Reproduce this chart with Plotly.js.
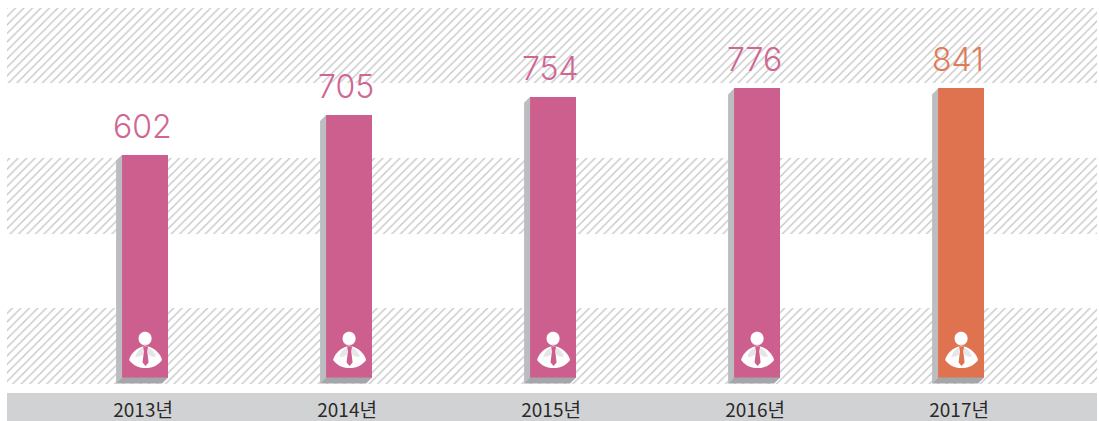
<!DOCTYPE html>
<html><head><meta charset="utf-8">
<script src="https://cdn.plot.ly/plotly-3.0.1.min.js"></script>
<style>html,body{margin:0;padding:0;background:#fff}#c{width:1099px;height:421px}</style></head>
<body><div id="c"></div>
<script>
const years = [2013, 2014, 2015, 2016, 2017];
const tickLabels = ["2013년", "2014년", "2015년", "2016년", "2017년"];
const labelValues = [602, 705, 754, 776, 841];
const drawnHeights = [598, 705, 754, 776, 776];
const barColors = ["#cc5f8e", "#cc5f8e", "#cc5f8e", "#cc5f8e", "#df7350"];
const textColors = ["#cf6792", "#cf6792", "#cf6792", "#cf6792", "#e07a58"];
const bandBases = [-17.4, 384, 791];
const bandHeights = [204, 204, 201];

const unitsPerPx = 1 / 0.3725;
const barLeftPx = -21, barWidthPx = 46, depthPx = 6;
const xUnit = 1 / 204;

const bands = {
  type: "bar", x: bandBases.map(() => 2015), y: bandHeights, base: bandBases,
  width: bandBases.map(() => 5.343), offset: bandBases.map(() => -2.667),
  marker: {color: "rgba(255,255,255,0)", line: {width: 0},
    pattern: {shape: "/", fgcolor: "#c4c5c6", bgcolor: "#ffffff", size: 6, solidity: 0.22}},
  hoverinfo: "skip", showlegend: false
};
const bars = {
  type: "bar", x: years, y: drawnHeights,
  width: years.map(() => barWidthPx * xUnit), offset: years.map(() => barLeftPx * xUnit),
  marker: {color: barColors, line: {width: 0}}, showlegend: false
};

const shapes = [{type: "rect", xref: "paper", yref: "paper", x0: 0, x1: 1, y0: -0.0239, y1: -0.0984,
  fillcolor: "#d1d2d4", line: {width: 0}, layer: "below"}];
const annotations = [];
years.forEach((yr, i) => {
  const h = drawnHeights[i], l = barLeftPx, r = l + barWidthPx, d = depthPx;
  const common = {type: "path", xref: "x", yref: "y", xsizemode: "pixel", xanchor: yr, line: {width: 0}, layer: "above"};
  shapes.push({...common, fillcolor: "#bcbdc0",
    path: `M ${l} ${h} L ${l-d} ${h - d*unitsPerPx} L ${l-d} ${-d*unitsPerPx} L ${l} 0 Z`});
  shapes.push({...common, fillcolor: "#a5a6a9",
    path: `M ${l} 0 L ${r} 0 L ${r-d} ${-d*unitsPerPx} L ${l-d} ${-d*unitsPerPx} Z`});
  const icon = {type: "path", xref: "x", yref: "y", xsizemode: "pixel", ysizemode: "pixel", xanchor: yr, yanchor: 0, line: {width: 0}, layer: "above"};
  shapes.push({...icon, fillcolor: "#ffffff",
    path: "M -14 17.5 C -12 25 -5 30 0 31 L 5 31 C 10 30 17 25 19 17.5 C 14 11 8 9.5 2.5 9.5 C -3 9.5 -9 11 -14 17.5 Z"});
  shapes.push({...icon, fillcolor: "#e6e6e7",
    path: "M -8 21 C -6 26 -3 29 0 30 L 0 23 C -3 21 -5 20 -8 21 Z"});
  shapes.push({...icon, fillcolor: "#e6e6e7",
    path: "M 13 21 C 11 26 8 29 5 30 L 5 23 C 8 21 10 20 13 21 Z"});
  shapes.push({...icon, fillcolor: "#ffffff",
    path: "M -4.5 39 C -4.5 30 8.5 30 8.5 39 C 8.5 48 -4.5 48 -4.5 39 Z"});
  shapes.push({...icon, fillcolor: "#e6e6e7",
    path: "M -2 34 C 0 31.5 4 31.5 6 34 C 4 33 0 33 -2 34 Z"});
  shapes.push({...icon, fillcolor: barColors[i],
    path: "M 0 31 L 5 31 L 4.2 26 L 5.5 15 L 2.5 11.5 L -0.5 15 L 0.8 26 Z"});
  annotations.push({x: yr, y: h, xref: "x", yref: "y", yanchor: "bottom", yshift: 7, xshift: -1, showarrow: false,
    text: String(labelValues[i]), font: {family: "Inter, Lato, sans-serif", size: 32, color: textColors[i], weight: 300}});
});

Plotly.newPlot("c", [bands, bars], {
  width: 1099, height: 421, barmode: "overlay", bargap: 0, showlegend: false,
  margin: {l: 7, r: 2, t: 8, b: 37, pad: 0},
  paper_bgcolor: "#ffffff", plot_bgcolor: "#ffffff",
  xaxis: {type: "linear", range: [2012.333, 2017.676], tickvals: years, ticktext: tickLabels,
    ticks: "", showgrid: false, zeroline: false, showline: false, ticklabelstandoff: 13,
    tickfont: {family: "'Noto Sans CJK KR', sans-serif", size: 19, color: "#2a2a2a"}},
  yaxis: {range: [-17.4, 992], visible: false, showgrid: false, zeroline: false},
  shapes, annotations
}, {displayModeBar: false});
</script></body></html>
